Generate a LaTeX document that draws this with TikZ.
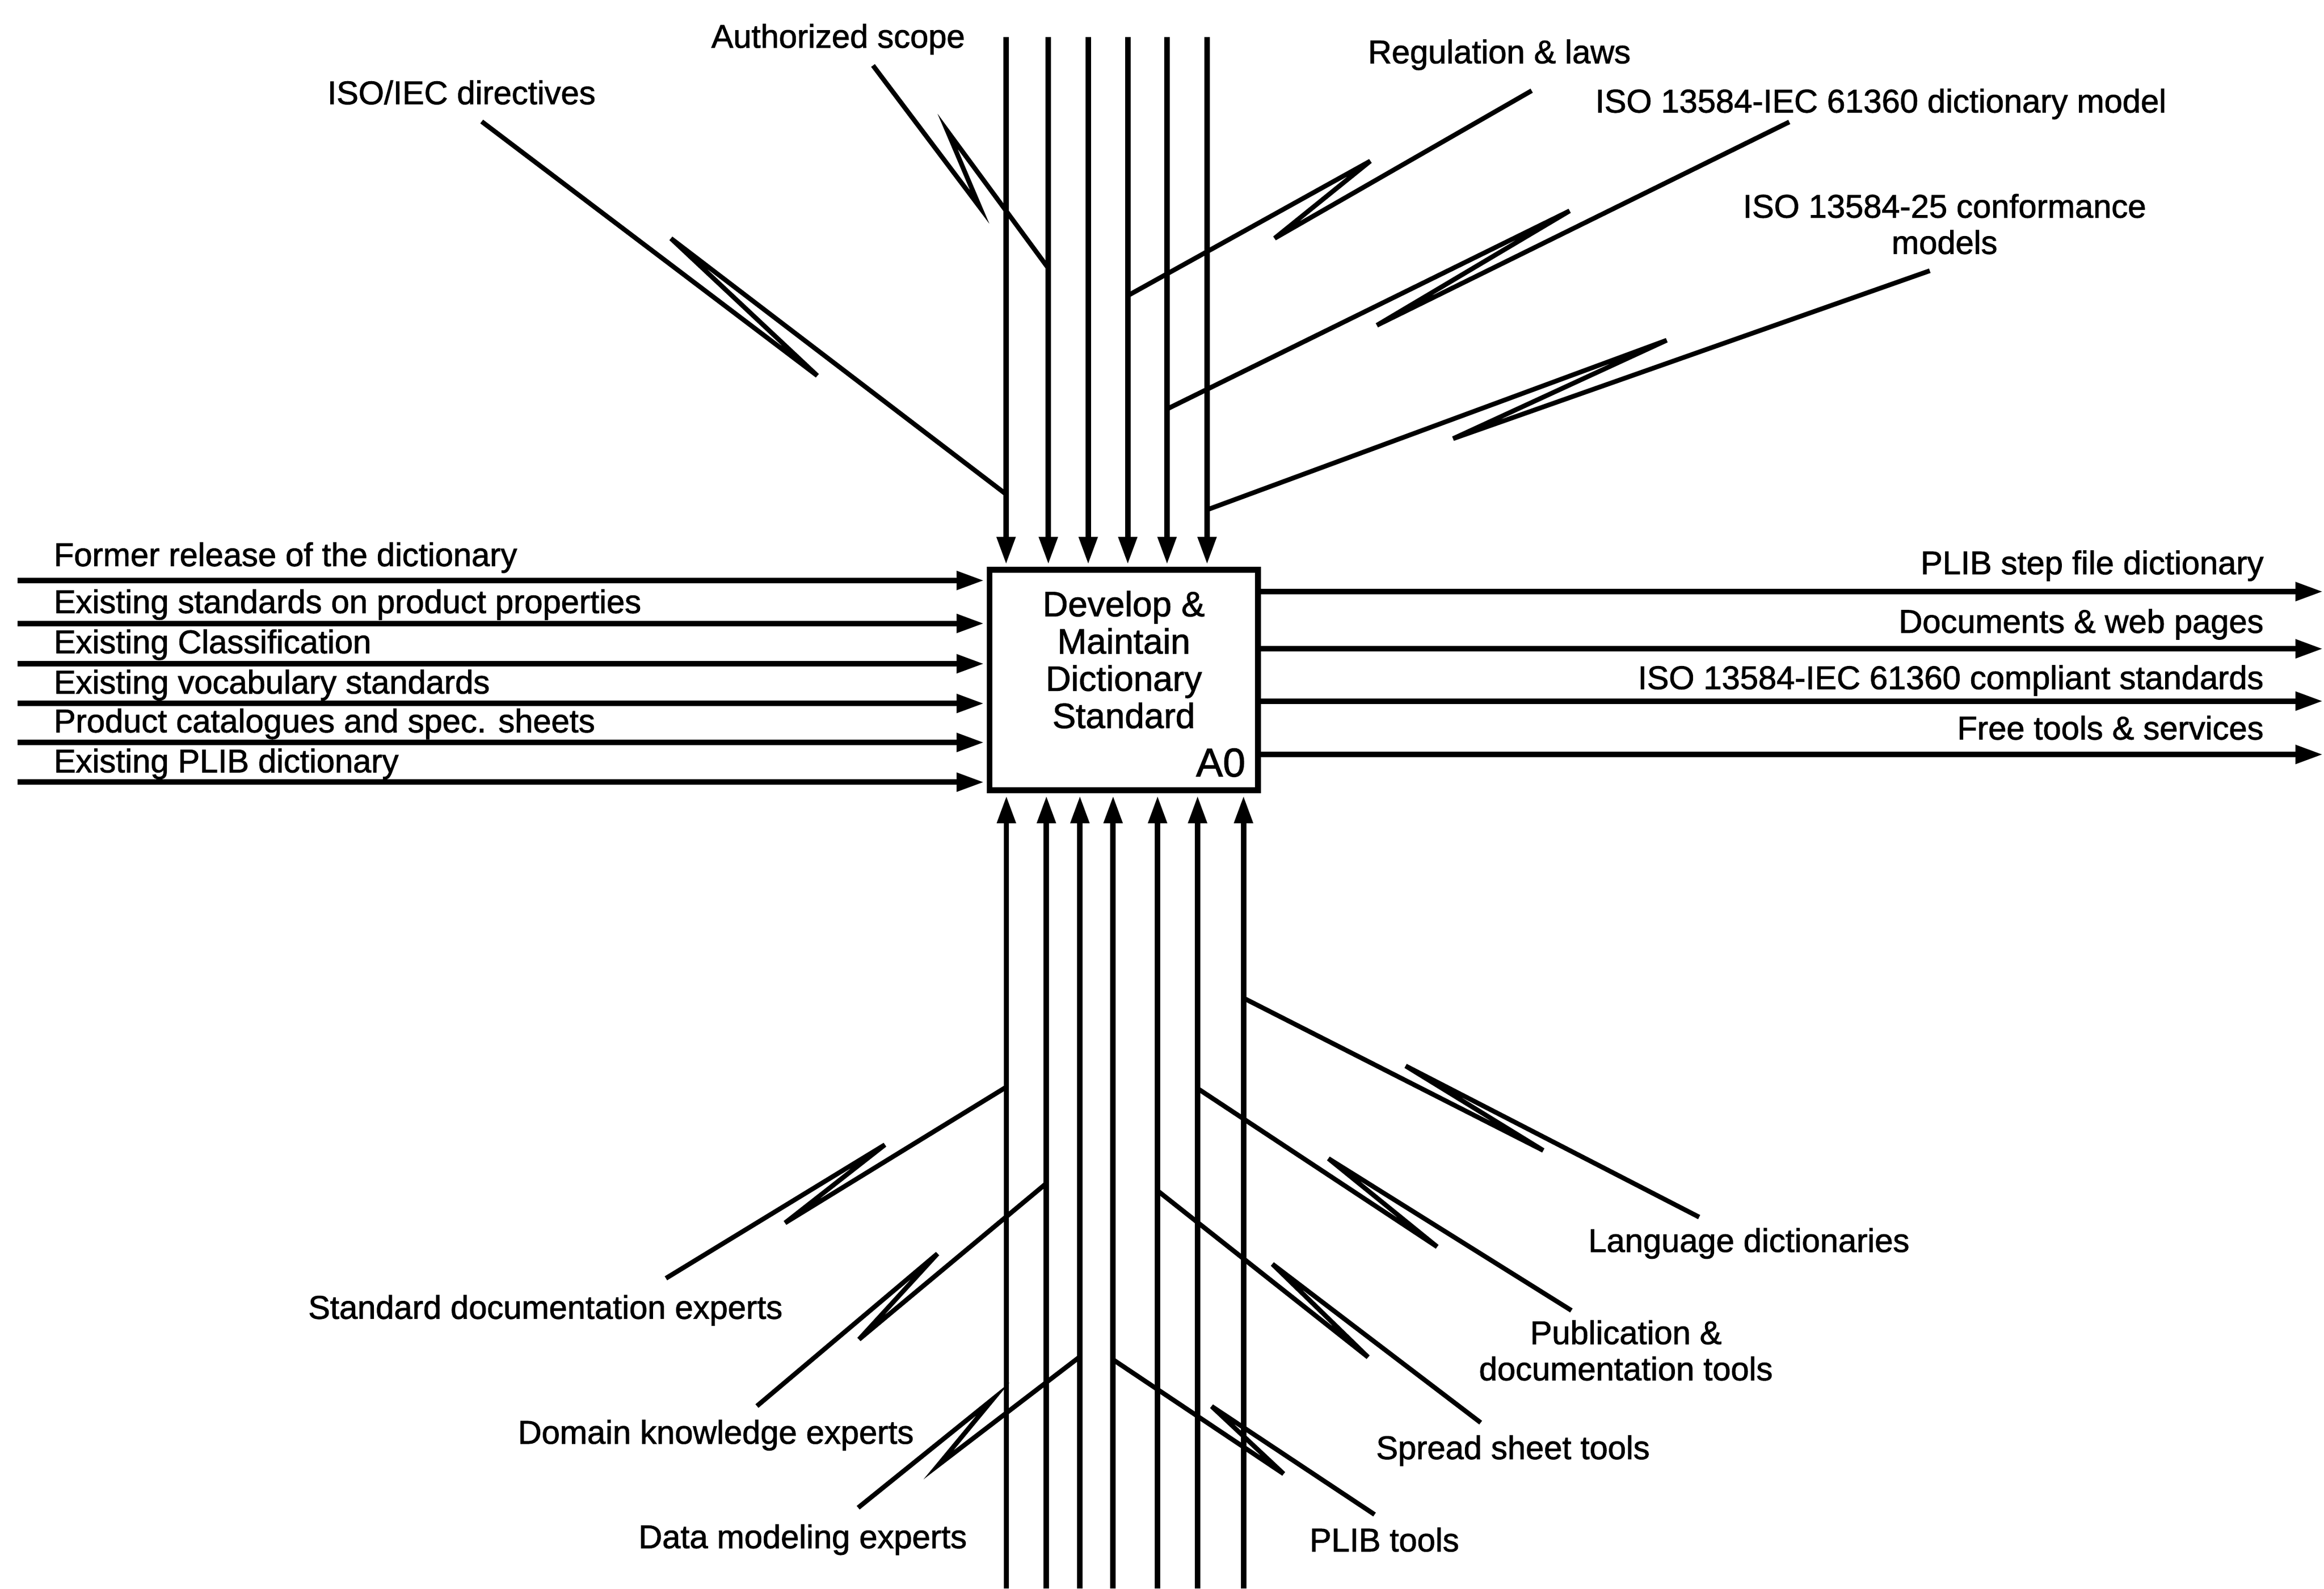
\documentclass[tikz,border=0pt]{standalone}
\usepackage{fontspec}
\setmainfont[FakeBold=1.5,AutoFakeBold=1.5]{Liberation Sans}
\usetikzlibrary{arrows.meta}

\begin{document}
\begin{tikzpicture}[x=0.2mm,y=-0.2mm,
  flow/.style={line width=2.1pt,-{Triangle[length=3.7mm,width=2.4mm]},shorten >=1pt},
  squig/.style={line width=1.8pt},
  lbl/.style={font=\fontsize{12.6}{13.9}\selectfont\bfseries,inner sep=0pt},
  func/.style={draw,line width=2.2pt,minimum width=36.24mm,minimum height=29.76mm,inner sep=0pt}]
\useasboundingbox (0,0) rectangle (1568,1072);
\node[func] (box) at (758.2,458.9) {};
\node[lbl,font=\fontsize{13.5}{14.3}\selectfont\bfseries,align=center] (title) at (758.2,445.1) {Develop \&\\Maintain\\Dictionary\\Standard};
\node[lbl,font=\fontsize{15.5}{18}\selectfont\bfseries,anchor=base east] (a0) at (840.6,524) {A0};
\foreach \y/\bl/\txt [count=\i] in {391.7/382/Former release of the dictionary,
  420.7/413.7/Existing standards on product properties,
  447.9/440.8/Existing Classification,
  474.7/468/Existing vocabulary standards,
  501/494.2/Product catalogues and spec. sheets,
  527.8/521.2/Existing PLIB dictionary}{
  \coordinate (in\i) at (12,\y);
  \node[lbl,anchor=base west] (inl\i) at (36,\bl) {\txt};
  \draw[flow] (in\i) -- (in\i -| box.west);
}
\foreach \y/\bl/\txt [count=\i] in {399.2/387.5/PLIB step file dictionary,
  437.8/427/Documents \& web pages,
  473.1/465/ISO 13584-IEC 61360 compliant standards,
  509.1/499/Free tools \& services}{
  \coordinate (out\i) at (1569,\y);
  \node[lbl,anchor=base east] (outl\i) at (1527.6,\bl) {\txt};
  \draw[flow] (out\i -| box.east) -- (out\i);
}
\foreach \x [count=\i] in {678.8,707.3,734.2,760.9,787.4,814.4}{
  \coordinate (ctl\i) at (\x,25);
  \draw[flow] (ctl\i) -- (ctl\i |- box.north);
}
\foreach \x [count=\i] in {679,706,728.6,751,781,808,839}{
  \coordinate (mec\i) at (\x,1072);
  \draw[flow] (mec\i) -- (mec\i |- box.south);
}
\node[lbl,anchor=base] (dirs) at (311.4,70.3) {ISO/IEC directives};
\node[lbl,anchor=base] (scope) at (565.5,32.2) {Authorized scope};
\node[lbl,anchor=base] (laws) at (1011.6,42.7) {Regulation \& laws};
\node[lbl,anchor=base] (model) at (1269,75.9) {ISO 13584-IEC 61360 dictionary model};
\node[lbl,align=center] (conf) at (1312,151.2) {ISO 13584-25 conformance\\models};
\node[lbl,anchor=base] (stdexp) at (368,889.9) {Standard documentation experts};
\node[lbl,anchor=base] (domexp) at (483,974.2) {Domain knowledge experts};
\node[lbl,anchor=base] (datexp) at (541.6,1044.7) {Data modeling experts};
\node[lbl,anchor=base] (plibt) at (934,1046.9) {PLIB tools};
\node[lbl,anchor=base] (sheet) at (1020.8,984.6) {Spread sheet tools};
\node[lbl,align=center] (pub) at (1097,911.3) {Publication \&\\documentation tools};
\node[lbl,anchor=base] (lang) at (1180,844.8) {Language dictionaries};
\foreach \n/\arr/\ey/\st/\pa/\pb in {
  dirs/ctl1/333.5/{325,82}/{551.4,253.5}/{452.7,160.9},
  scope/ctl2/181/{589,44.2}/{661,139.7}/{639.3,88.6},
  laws/ctl4/199.5/{1033.4,61.2}/{860,160.8}/{924.5,108.7},
  model/ctl5/276/{1207.2,82.3}/{929,219.5}/{1059,142.3},
  conf/ctl6/344/{1302,182.7}/{980.4,296}/{1124.5,229.6},
  stdexp/mec1/733.5/{449.3,862.6}/{597,772.5}/{529.7,825.2},
  domexp/mec2/798.5/{510.7,948.8}/{632.5,846}/{579.6,903.8},
  datexp/mec3/915.5/{579,1017.4}/{670,944}/{633.2,988.5},
  plibt/mec4/917.5/{927.4,1022}/{817.5,949}/{866,994.5},
  sheet/mec5/803.5/{999,960}/{858.5,853}/{923,915.8},
  pub/mec6/734.5/{1060.2,884.3}/{896.3,781.8}/{969.6,841.3},
  lang/mec7/673.5/{1146.4,821.3}/{948.4,719.3}/{1041.2,776.3}}{
  \coordinate (\n-s) at (\st);
  \coordinate (\n-e) at (\arr |- 0,\ey);
  \draw[squig] (\n-s) -- (\pa) -- (\pb) -- (\n-e);
}
\end{tikzpicture}
\end{document}
